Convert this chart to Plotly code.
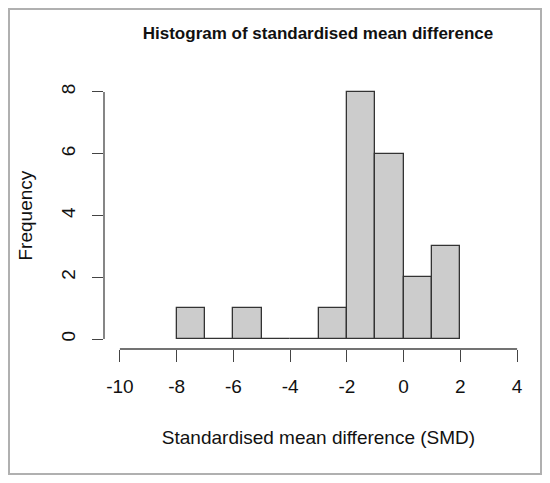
import plotly.graph_objects as go

# histogram bins (left edges, width 1) and counts
bin_left = [-8, -7, -6, -5, -4, -3, -2, -1, 0, 1]
counts = [1, 0, 1, 0, 0, 1, 8, 6, 2, 3]
bin_width = 1

x_ticks = [-10, -8, -6, -4, -2, 0, 2, 4]
y_ticks = [0, 2, 4, 6, 8]

title_text = 'Histogram of standardised mean difference'
x_title = 'Standardised mean difference (SMD)'
y_title = 'Frequency'

font_name = 'Liberation Sans, Arial, sans-serif'
axis_col = '#444444'

# R style: axis range padded by 4%
xpad = (max(x_ticks) - min(x_ticks)) * 0.04
ypad = (max(y_ticks) - min(y_ticks)) * 0.04

# page body has an 8px margin, so the figure is a bit smaller than the window
W, H = 534, 467
L, R, T, B = 96, 9, 74, 126
pw, ph = W - L - R, H - T - B

fig = go.Figure(go.Bar(
    x=[b + bin_width / 2 for b in bin_left],
    y=counts,
    width=bin_width,
    marker=dict(color='#cccccc', line=dict(color='#333333', width=1.3)),
    hoverinfo='x+y'
))

# axis lines only across the tick span, like base R
shapes = [
    dict(type='line', xref='x', yref='paper', x0=min(x_ticks), x1=max(x_ticks), y0=0, y1=0,
         line=dict(color=axis_col, width=1.3)),
    dict(type='line', xref='paper', yref='y', x0=0, x1=0, y0=min(y_ticks), y1=max(y_ticks),
         line=dict(color=axis_col, width=1.3)),
    # outer frame
    dict(type='rect', xref='paper', yref='paper',
         x0=(1 - L) / pw, x1=(W - 1 - L) / pw,
         y0=(1 - B) / ph, y1=(ph + T - 1) / ph,
         line=dict(color='#b0b0b0', width=2), layer='below'),
]

fig.add_annotation(text=y_title, xref='paper', yref='paper', x=(17 - L) / pw, y=0.5,
                   xanchor='center', yanchor='middle', textangle=-90, showarrow=False,
                   font=dict(size=19, color='#111111'))

fig.update_layout(
    width=W, height=H,
    margin=dict(l=L, r=R, t=T, b=B),
    plot_bgcolor='white', paper_bgcolor='white',
    font=dict(family=font_name, size=19, color='#111111'),
    showlegend=False,
    bargap=0,
    shapes=shapes,
    title=dict(text='<b>' + title_text + '</b>', x=310 / W, xanchor='center',
               y=1 - 25 / H, yanchor='middle', font=dict(size=17, color='#111111')),
    xaxis=dict(range=[min(x_ticks) - xpad, max(x_ticks) + xpad], tickvals=x_ticks,
               ticktext=[str(v) for v in x_ticks], automargin=False,
               showgrid=False, zeroline=False, showline=False,
               ticks='outside', ticklen=12, tickwidth=1.3, tickcolor=axis_col,
               ticklabelstandoff=8,
               title=dict(text=x_title, standoff=34, font=dict(size=19))),
    yaxis=dict(range=[min(y_ticks) - ypad, max(y_ticks) + ypad], tickvals=y_ticks,
               ticktext=[str(v) for v in y_ticks], tickangle=-90, automargin=False,
               showgrid=False, zeroline=False, showline=False,
               ticks='outside', ticklen=11, tickwidth=1.3, tickcolor=axis_col,
               ticklabelstandoff=9),
)

fig.write_html("out.html")
